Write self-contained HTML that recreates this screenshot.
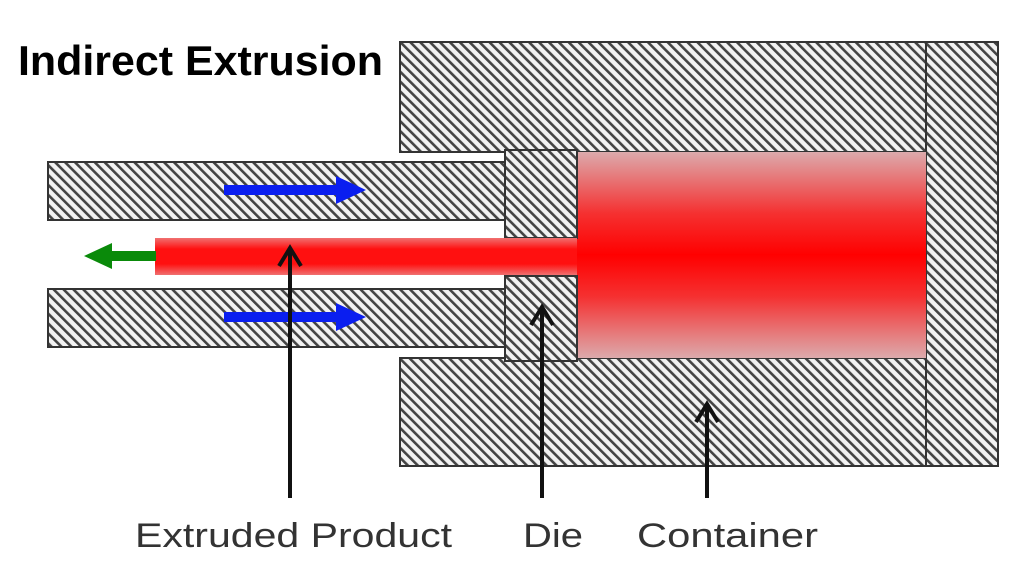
<!DOCTYPE html>
<html><head><meta charset="utf-8"><style>html,body{margin:0;padding:0;background:#fff}svg{display:block}</style></head>
<body>
<svg width="1024" height="576" viewBox="0 0 1024 576" xmlns="http://www.w3.org/2000/svg">
<defs>
<pattern id="h" patternUnits="userSpaceOnUse" width="7" height="7" patternTransform="rotate(-45)">
<rect width="7" height="7" fill="#f2f2f2"/>
<rect x="0" y="0" width="2.6" height="7" fill="#444"/>
</pattern>
<linearGradient id="bill" x1="0" y1="0" x2="0" y2="1">
<stop offset="0" stop-color="#dcaaac"/>
<stop offset="0.3" stop-color="#f53030"/>
<stop offset="0.5" stop-color="#ff0000"/>
<stop offset="0.7" stop-color="#f53030"/>
<stop offset="1" stop-color="#dcaaac"/>
</linearGradient>
<linearGradient id="prod" x1="0" y1="0" x2="0" y2="1">
<stop offset="0" stop-color="#f07070"/>
<stop offset="0.3" stop-color="#ff1010"/>
<stop offset="0.7" stop-color="#ff1010"/>
<stop offset="1" stop-color="#f07070"/>
</linearGradient>
</defs>
<path d="M400,42 H998 V466 H400 V358 H926 V152 H400 Z" fill="url(#h)" stroke="#333" stroke-width="2"/>
<line x1="926" y1="42" x2="926" y2="466" stroke="#333" stroke-width="2"/>
<rect x="577" y="152" width="349" height="206" fill="url(#bill)"/>
<rect x="48" y="162" width="457" height="58" fill="url(#h)" stroke="#333" stroke-width="2"/>
<rect x="48" y="289" width="457" height="58" fill="url(#h)" stroke="#333" stroke-width="2"/>
<rect x="505" y="150" width="72" height="88" fill="url(#h)" stroke="#333" stroke-width="2"/>
<rect x="505" y="276" width="72" height="85" fill="url(#h)" stroke="#333" stroke-width="2"/>
<rect x="155" y="238" width="422" height="37" fill="url(#prod)"/>
<rect x="110" y="251" width="46" height="10" fill="#0a8a0a"/>
<polygon points="84,256 112,243 112,269" fill="#0a8a0a"/>
<rect x="224" y="185" width="115" height="10" fill="#0a1ef0"/>
<polygon points="366,190 336,176 336,204" fill="#0a1ef0"/>
<rect x="224" y="312" width="115" height="10" fill="#0a1ef0"/>
<polygon points="366,317 336,303 336,331" fill="#0a1ef0"/>
<g stroke="#111" stroke-width="4" fill="none">
<line x1="290" y1="498" x2="290" y2="248"/>
<polyline points="279,266 290,248 301,266"/>
<line x1="542" y1="498" x2="542" y2="307"/>
<polyline points="531,325 542,307 553,325"/>
<line x1="707" y1="498" x2="707" y2="404"/>
<polyline points="696,422 707,404 718,422"/>
</g>
<g font-family="Liberation Sans, sans-serif" font-size="34" fill="#333">
<text x="135" y="547" textLength="317" lengthAdjust="spacingAndGlyphs">Extruded Product</text>
<text x="523" y="547" textLength="60" lengthAdjust="spacingAndGlyphs">Die</text>
<text x="637" y="547" textLength="181" lengthAdjust="spacingAndGlyphs">Container</text>
</g>
<text x="18" y="75" font-family="Liberation Sans, sans-serif" font-weight="bold" font-size="42" fill="#000" textLength="365" lengthAdjust="spacingAndGlyphs">Indirect Extrusion</text>
</svg>
</body></html>
